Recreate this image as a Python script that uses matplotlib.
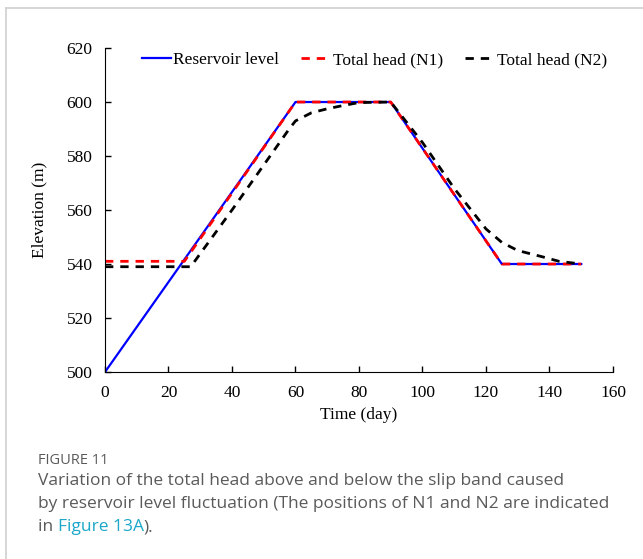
import numpy as np
import matplotlib
matplotlib.use('Agg')
import matplotlib.pyplot as plt
from matplotlib.lines import Line2D

# reservoir level and total head at N1 / N2
res_day = [0, 60, 90, 125, 150]
res_lvl = [500, 600, 600, 540, 540]

n1_day = [0, 25, 60, 90, 125, 150]
n1_head = [541, 541, 600, 600, 540, 540]

n2_day = [0, 27, 40, 58, 60, 65, 70, 75, 80, 90, 100, 110, 120, 125, 130, 138, 143, 150]
n2_head = [539, 539, 560, 590, 593, 596, 597.5, 598.7, 599.8, 600, 585, 568, 553, 548, 545, 542.6, 541, 540]

xticks = list(range(0, 161, 20))
yticks = list(range(500, 621, 20))

serif = 'Liberation Serif'

fig = plt.figure(figsize=(6.43, 5.59), dpi=100)
ax = fig.add_axes([0.1633, 0.3345, 0.79, 0.5796])

ax.plot(res_day, res_lvl, color='blue', lw=1.6, label='Reservoir level')
ax.plot(n1_day, n1_head, color='red', lw=2.0, ls=(0, (3, 2.5)), label='Total head (N1)')
ax.plot(n2_day, n2_head, color='black', lw=2.0, ls=(0, (3, 2.5)), label='Total head (N2)')

ax.set_xlim(0, 160)
ax.set_ylim(500, 620)
ax.set_xticks(xticks)
ax.set_yticks(yticks)
ax.spines['top'].set_visible(False)
ax.spines['right'].set_visible(False)
ax.tick_params(direction='in', length=4, width=1, labelsize=12.5, pad=9)
for lab in ax.get_xticklabels() + ax.get_yticklabels():
    lab.set_fontfamily(serif)
ax.set_xlabel('Time (day)', fontfamily=serif, fontsize=12.5, labelpad=5)
ax.set_ylabel('Elevation (m)', fontfamily=serif, fontsize=12.5, labelpad=14)

leg = ax.legend(loc='center', bbox_to_anchor=(0.53, 0.963), ncol=3, frameon=False,
                prop={'family': serif, 'size': 12.5}, handlelength=1.7, handletextpad=0.1,
                columnspacing=1.3)

# card border
fig.add_artist(Line2D([6/643, 1.0], [1 - 8/559, 1 - 8/559], color='#d0d0d0', lw=1.2))
fig.add_artist(Line2D([6/643, 6/643], [0, 1 - 8/559], color='#d0d0d0', lw=1.2))

# caption
cap_font = 'Open Sans'
gray = '#5a5a5a'
fig.text(38/643, 1 - 460/559, 'FIGURE 11', color=gray, fontfamily=cap_font, fontsize=10.5, va='center')
fig.text(38/643, 1 - 481/559, 'Variation of the total head above and below the slip band caused',
         color=gray, fontfamily=cap_font, fontsize=12.5, va='center')
fig.text(38/643, 1 - 504/559, 'by reservoir level fluctuation (The positions of N1 and N2 are indicated',
         color=gray, fontfamily=cap_font, fontsize=12.5, va='center')
t1 = fig.text(38/643, 1 - 527/559, 'in ', color=gray, fontfamily=cap_font, fontsize=12.5, va='center')
fig.canvas.draw()
r = fig.canvas.get_renderer()
x1 = t1.get_window_extent(r).x1 / fig.bbox.width
t2 = fig.text(x1, 1 - 527/559, 'Figure 13A', color='#1ba7c9', fontfamily=cap_font, fontsize=12.5, va='center')
x2 = t2.get_window_extent(r).x1 / fig.bbox.width
fig.text(x2, 1 - 527/559, ').', color=gray, fontfamily=cap_font, fontsize=12.5, va='center')

plt.savefig('out.png', dpi=100)
